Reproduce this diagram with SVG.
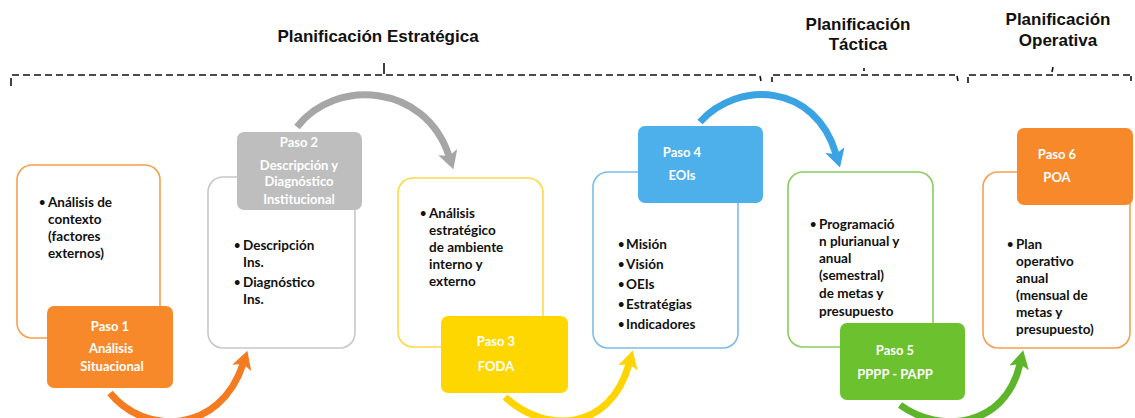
<svg xmlns="http://www.w3.org/2000/svg" width="1135" height="418" viewBox="0 0 1135 418">
<style>
.title{font-family:"Liberation Sans",Arial,sans-serif;font-weight:bold;font-size:17px;fill:#111;text-anchor:middle}
.card{fill:#fff;stroke-width:1.6}
.body{font-family:Lato,"Open Sans",sans-serif;font-weight:bold;font-size:13.5px;fill:#111}
.bul{font-family:Lato,"Open Sans",sans-serif;font-weight:bold;font-size:11px;fill:#111}
.head{font-family:Lato,"Open Sans",sans-serif;font-weight:bold;font-size:13px;fill:#fff;text-anchor:middle}
.brk{fill:none;stroke:#111;stroke-width:1.6;stroke-dasharray:7 4}
.tick{fill:none;stroke:#111;stroke-width:1.6}
.arr{fill:none;stroke-width:7;stroke-linecap:butt}
</style>
<defs>
<marker id="mO" markerUnits="userSpaceOnUse" markerWidth="24" markerHeight="24" refX="4" refY="10" orient="auto"><path d="M0,0 L18,10 L0,20 L4,10 z" fill="#F47B20"/></marker>
<marker id="mG" markerUnits="userSpaceOnUse" markerWidth="24" markerHeight="24" refX="4" refY="10" orient="auto"><path d="M0,0 L18,10 L0,20 L4,10 z" fill="#A6A6A6"/></marker>
<marker id="mY" markerUnits="userSpaceOnUse" markerWidth="24" markerHeight="24" refX="4" refY="10" orient="auto"><path d="M0,0 L18,10 L0,20 L4,10 z" fill="#FFD400"/></marker>
<marker id="mB" markerUnits="userSpaceOnUse" markerWidth="24" markerHeight="24" refX="4" refY="10" orient="auto"><path d="M0,0 L18,10 L0,20 L4,10 z" fill="#3AA3E3"/></marker>
<marker id="mV" markerUnits="userSpaceOnUse" markerWidth="24" markerHeight="24" refX="4" refY="10" orient="auto"><path d="M0,0 L18,10 L0,20 L4,10 z" fill="#5DB52B"/></marker>
</defs>

<g id="headers">
<text class="title" x="378" y="42">Planificación Estratégica</text>
<text class="title" x="858" y="30">Planificación</text>
<text class="title" x="858" y="50">Táctica</text>
<text class="title" x="1058" y="25">Planificación</text>
<text class="title" x="1058" y="46">Operativa</text>
</g>

<g id="brackets">
<path class="brk" d="M12,75 L758,75"/>
<path class="tick" d="M11,78 L11,86"/>
<path class="tick" d="M384,63 L384,74"/>
<path class="tick" d="M760,76 L761,81"/>
<path class="brk" d="M773,75 L955,75"/>
<path class="tick" d="M772,77 L772,82"/>
<path class="tick" d="M864,68 L864,71"/>
<path class="tick" d="M957,76 L958,81"/>
<path class="brk" d="M969,75 L1130,75"/>
<path class="tick" d="M968,77 L968,83"/>
<path class="tick" d="M1053,67 L1052,72"/>
<path class="tick" d="M1131,76 L1131,81"/>
</g>

<g id="connectors">
<path class="arr" stroke="#F47B20" marker-end="url(#mO)" d="M110,393 C145,436 220,434 243,364"/>
<path class="arr" stroke="#A6A6A6" marker-end="url(#mG)" d="M297,127 C335,78 425,83 449,156"/>
<path class="arr" stroke="#FFD400" marker-end="url(#mY)" d="M505,397 C545,434 610,432 629,364"/>
<path class="arr" stroke="#3AA3E3" marker-end="url(#mB)" d="M700,122 C738,80 815,83 836,154"/>
<path class="arr" stroke="#5DB52B" marker-end="url(#mV)" d="M900,405 C940,434 1005,428 1020,364"/>
</g>

<g id="step1">
<rect class="card" x="17" y="165" width="143" height="173" rx="15" stroke="#F5A050"/>
<text class="bul" x="39" y="206">•</text>
<text class="body"><tspan x="48" y="207">Análisis de</tspan><tspan x="48" y="224">contexto</tspan><tspan x="48" y="241">(factores</tspan><tspan x="48" y="258">externos)</tspan></text>
<rect x="47" y="306" width="126" height="82" rx="7" fill="#F7892B"/>
<text class="head"><tspan x="110" y="331">Paso 1</tspan><tspan x="111" y="353">Análisis</tspan><tspan x="112" y="371">Situacional</tspan></text>
</g>

<g id="step2">
<rect class="card" x="208" y="177" width="147" height="171" rx="15" stroke="#C8C8C8"/>
<text class="bul"><tspan x="234" y="249">•</tspan><tspan x="234" y="286">•</tspan></text>
<text class="body"><tspan x="243" y="250">Descripción</tspan><tspan x="243" y="267">Ins.</tspan><tspan x="243" y="287">Diagnóstico</tspan><tspan x="243" y="304">Ins.</tspan></text>
<rect x="237" y="132" width="125" height="78" rx="7" fill="#BEBEBE"/>
<text class="head"><tspan x="299" y="147">Paso 2</tspan><tspan x="299" y="170">Descripción y</tspan><tspan x="299" y="186">Diagnóstico</tspan><tspan x="299" y="204">Institucional</tspan></text>
</g>

<g id="step3">
<rect class="card" x="398" y="178" width="145" height="169" rx="15" stroke="#FFD84A"/>
<text class="bul" x="420" y="217">•</text>
<text class="body"><tspan x="429" y="218">Análisis</tspan><tspan x="429" y="235">estratégico</tspan><tspan x="429" y="252">de ambiente</tspan><tspan x="429" y="269">interno y</tspan><tspan x="429" y="286">externo</tspan></text>
<rect x="441" y="316" width="127" height="77" rx="7" fill="#FFD700"/>
<text class="head"><tspan x="496" y="346">Paso 3</tspan><tspan x="496" y="371">FODA</tspan></text>
</g>

<g id="step4">
<rect class="card" x="593" y="172" width="145" height="176" rx="15" stroke="#7DBDE8"/>
<text class="bul"><tspan x="618" y="248">•</tspan><tspan x="618" y="268">•</tspan><tspan x="618" y="288">•</tspan><tspan x="618" y="308">•</tspan><tspan x="618" y="328">•</tspan></text>
<text class="body"><tspan x="626" y="249">Misión</tspan><tspan x="626" y="269">Visión</tspan><tspan x="626" y="289">OEIs</tspan><tspan x="626" y="309">Estratégias</tspan><tspan x="626" y="329">Indicadores</tspan></text>
<rect x="638" y="126" width="125" height="77" rx="7" fill="#4DB0EA"/>
<text class="head"><tspan x="682" y="157">Paso 4</tspan><tspan x="682" y="180">EOIs</tspan></text>
</g>

<g id="step5">
<rect class="card" x="788" y="172" width="145" height="175" rx="15" stroke="#8CCB5E"/>
<text class="bul" x="810" y="228">•</text>
<text class="body"><tspan x="819" y="229">Programació</tspan><tspan x="819" y="246">n plurianual y</tspan><tspan x="819" y="263">anual</tspan><tspan x="819" y="280">(semestral)</tspan><tspan x="819" y="298">de metas y</tspan><tspan x="819" y="316">presupuesto</tspan></text>
<rect x="840" y="323" width="125" height="77" rx="7" fill="#6CC12E"/>
<text class="head"><tspan x="895" y="355">Paso 5</tspan><tspan x="895" y="379">PPPP - PAPP</tspan></text>
</g>

<g id="step6">
<rect class="card" x="983" y="172" width="147" height="176" rx="15" stroke="#F5A050"/>
<text class="bul" x="1007" y="248">•</text>
<text class="body"><tspan x="1016" y="249">Plan</tspan><tspan x="1016" y="266">operativo</tspan><tspan x="1016" y="283">anual</tspan><tspan x="1016" y="300">(mensual de</tspan><tspan x="1016" y="317">metas y</tspan><tspan x="1016" y="334">presupuesto)</tspan></text>
<rect x="1017" y="128" width="116" height="77" rx="7" fill="#F7892B"/>
<text class="head"><tspan x="1057" y="159">Paso 6</tspan><tspan x="1057" y="182">POA</tspan></text>
</g>
</svg>
